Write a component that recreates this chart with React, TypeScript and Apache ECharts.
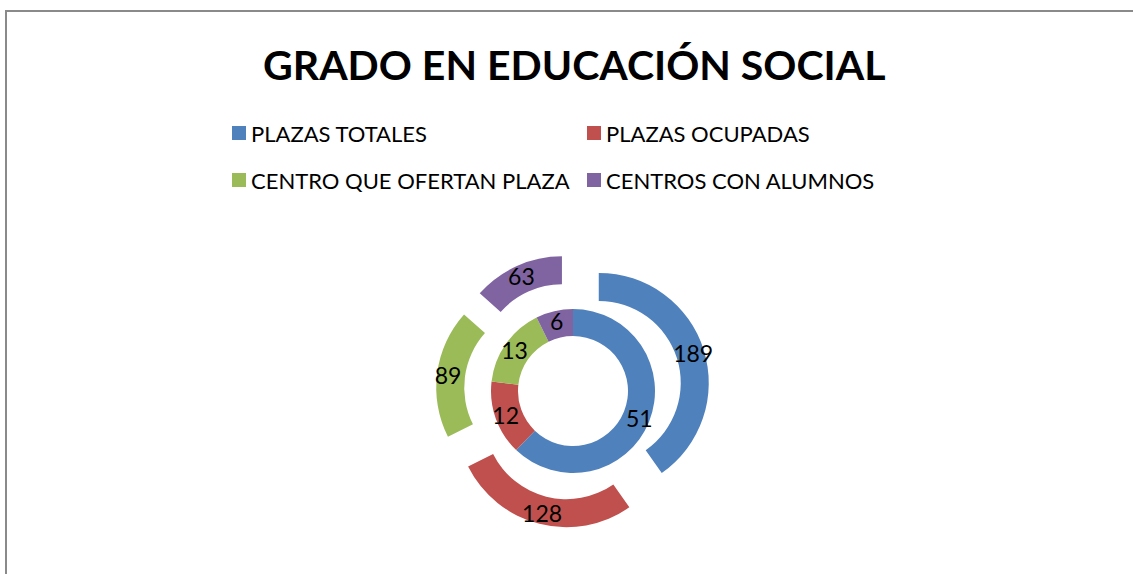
import React, { useEffect, useRef } from "react";
import * as echarts from "echarts";

const categories = [
  "PLAZAS TOTALES",
  "PLAZAS OCUPADAS",
  "CENTRO QUE OFERTAN PLAZA",
  "CENTROS CON ALUMNOS",
];
const innerValues = [51, 12, 13, 6];
const outerValues = [189, 128, 89, 63];
const colors = ["#4F81BD", "#C0504D", "#9BBB59", "#8064A2"];
const titleText = "GRADO EN EDUCACIÓN SOCIAL";

const FONT = "Lato, 'Noto Sans', sans-serif";

export default function App() {
  const ref = useRef<HTMLDivElement>(null);
  useEffect(() => {
    if (!ref.current) return;
    const chart = echarts.init(ref.current, null, { renderer: "svg" });
    const label = {
      show: true,
      position: "inside" as const,
      formatter: "{c}",
      color: "#000",
      fontSize: 23,
      fontFamily: FONT,
    };
    const legendBase = {
      orient: "vertical" as const,
      icon: "rect",
      itemWidth: 14,
      itemHeight: 14,
      itemGap: 23,
      selectedMode: false,
      textStyle: {
        fontSize: 22,
        lineHeight: 24,
        color: "#000",
        fontFamily: FONT,
      },
    };
    chart.setOption({
      animation: false,
      color: colors,
      title: {
        text: titleText,
        left: 258,
        top: 39,
        textStyle: {
          fontSize: 41,
          fontWeight: "bold",
          color: "#000",
          fontFamily: FONT,
        },
      },
      legend: [
        { ...legendBase, left: 227, top: 116, data: [categories[0], categories[2]] },
        { ...legendBase, left: 582, top: 116, data: [categories[1], categories[3]] },
      ],
      graphic: [
        {
          type: "line",
          shape: { x1: 6, y1: 11, x2: 1133, y2: 11 },
          style: { stroke: "#8a8a8a", lineWidth: 2 },
          silent: true,
        },
        {
          type: "line",
          shape: { x1: 6, y1: 10, x2: 6, y2: 574 },
          style: { stroke: "#8a8a8a", lineWidth: 2 },
          silent: true,
        },
      ],
      series: [
        {
          type: "pie",
          name: "inner",
          center: [573, 391],
          radius: [55, 82],
          startAngle: 90,
          clockwise: true,
          label,
          labelLine: { show: false },
          emphasis: { disabled: true },
          data: categories.map((c, i) => ({ name: c, value: innerValues[i] })),
        },
        {
          type: "pie",
          name: "outer",
          center: [573, 391],
          radius: [82, 110],
          startAngle: 90,
          clockwise: true,
          selectedMode: "multiple",
          selectedOffset: 27,
          label,
          labelLine: { show: false },
          emphasis: { disabled: true },
          data: categories.map((c, i) => ({ name: c, value: outerValues[i], selected: true })),
        },
      ],
    });
    return () => chart.dispose();
  }, []);
  return (
    <div
      ref={ref}
      style={{ position: "fixed", left: 0, top: 0, width: 1133, height: 574, background: "#fff" }}
    />
  );
}
